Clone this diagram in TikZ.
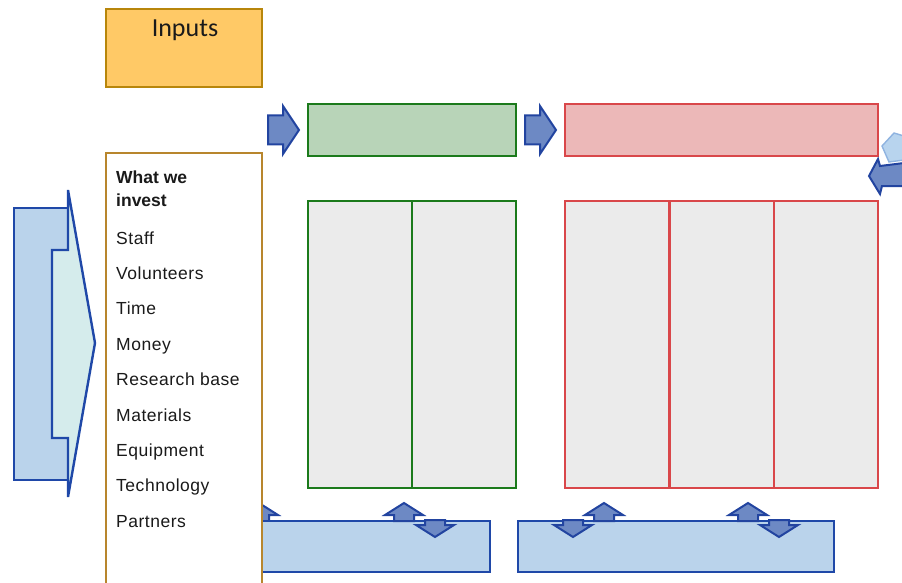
\documentclass[tikz,border=0pt]{standalone}
\usepackage{fontspec}
\setmainfont{Liberation Sans}
\newfontfamily\titlefont{Carlito}
\usetikzlibrary{calc}
\definecolor{inputfill}{HTML}{FFC966}
\definecolor{inputborder}{HTML}{B8860B}
\definecolor{listborder}{HTML}{B8862D}
\definecolor{greenfill}{HTML}{B8D4B8}
\definecolor{greenborder}{HTML}{1B7A1B}
\definecolor{redfill}{HTML}{ECB8B8}
\definecolor{redborder}{HTML}{D9474A}
\definecolor{greyfill}{HTML}{EBEBEB}
\definecolor{bluefill}{HTML}{BAD3EB}
\definecolor{blueborder}{HTML}{1F48A8}
\definecolor{arrowfill}{HTML}{6D89C4}
\definecolor{arrowborder}{HTML}{2244A0}
\definecolor{cyanfill}{HTML}{D5ECEC}
\definecolor{lightarrow}{HTML}{B8D4EE}
\definecolor{lightborder}{HTML}{8FB3E0}
\definecolor{textcol}{HTML}{1A1A1A}
\tikzset{
  box/.style={draw, line width=2.4pt, inner sep=0pt, outer sep=0pt, anchor=north west},
  item/.style={anchor=base west, inner sep=0pt, text=textcol, font=\fontsize{17.5}{20}\selectfont\addfontfeature{LetterSpace=3}},
  arr/.style={fill=arrowfill, draw=arrowborder, line width=2pt, line join=miter},
  pics/rarrow/.style={code={\draw[arr] (0,-14.5) -- (15,-14.5) -- (15,-24) -- (31,0) -- (15,24) -- (15,14.5) -- (0,14.5) -- cycle;}},
  pics/uparrow/.style={code={\draw[arr] (-10,18) -- (-10,12) -- (-19,12) -- (0,0) -- (19,12) -- (10,12) -- (10,18) -- cycle;}},
  pics/downarrow/.style={code={\draw[arr] (-10,0) -- (10,0) -- (10,5) -- (19,5) -- (0,17) -- (-19,5) -- (-10,5) -- cycle;}}
}
\begin{document}
\begin{tikzpicture}[x=1pt,y=-1pt]
\useasboundingbox (0,0) rectangle (902,583);

% Inputs title
\node[box, fill=inputfill, draw=inputborder, minimum width=156pt, minimum height=78pt] (inputs) at (106,9) {};
\node[anchor=base, inner sep=0pt, text=textcol, font=\titlefont\fontsize{26}{30}\selectfont] (inputstitle) at (185,37) {Inputs};

% left big arrow
\draw[fill=bluefill, draw=blueborder, line width=2.4pt] (14,208) -- (68,208) -- (68,250) -- (52,250) -- (52,438) -- (68,438) -- (68,480) -- (14,480) -- cycle;
\draw[fill=cyanfill, draw=blueborder, line width=2.4pt, line join=miter] (68,190) -- (95,343) -- (68,497) -- (68,438) -- (52,438) -- (52,250) -- (68,250) -- cycle;

% top arrows and boxes
\pic at (268,130) {rarrow};
\node[box, fill=greenfill, draw=greenborder, minimum width=208pt, minimum height=52pt] (outputs) at (308,104) {};
\pic at (525,130) {rarrow};
\node[box, fill=redfill, draw=redborder, minimum width=313pt, minimum height=52pt] (outcomes) at (565,104) {};

% top-right cycle arrow (partly cut)
\draw[fill=lightarrow, draw=lightborder, line width=1.4pt] (882,146) -- (894,133) -- (904,136) -- (904,160) -- (889,162) -- cycle;
\draw[arr] (869,176) -- (878,159) -- (880,166) -- (904,163) -- (904,186) -- (882,186) -- (880,194) -- cycle;

% lower boxes
\node[box, fill=greyfill, draw=greenborder, minimum width=208pt, minimum height=287pt] (outgrid) at (308,201) {};
\draw[greenborder, line width=2.4pt] (outgrid.north) -- (outgrid.south);
\node[box, fill=greyfill, draw=redborder, minimum width=313pt, minimum height=287pt] (outcgrid) at (565,201) {};
\draw[draw=redborder, line width=2.4pt] (outcgrid.north west) ++(104.3,0) coordinate (d1t) -- ++(0,287) coordinate (d1b);
\draw[draw=redborder, line width=2.4pt] (outcgrid.north west) ++(208.7,0) coordinate (d2t) -- ++(0,287) coordinate (d2b);

% bottom boxes
\pic at (259,503) {uparrow};
\node[box, fill=bluefill, draw=blueborder, minimum width=260pt, minimum height=51pt] (assump) at (230,521) {};
\node[box, fill=bluefill, draw=blueborder, minimum width=316pt, minimum height=51pt] (extfac) at (518,521) {};
\pic at (404,503) {uparrow};
\pic at (435,520) {downarrow};
\pic at (573,520) {downarrow};
\pic at (604,503) {uparrow};
\pic at (748,503) {uparrow};
\pic at (779,520) {downarrow};

% inputs list box
\node[box, fill=white, draw=listborder, minimum width=156pt, minimum height=440pt] (invest) at (106,153) {};
\node[item, font=\fontsize{17.5}{20}\selectfont\bfseries] (what) at (116,183) {What we};
\node[item, font=\fontsize{17.5}{20}\selectfont\bfseries] (investlbl) at (116,206) {invest};
\node[item] (i1) at (116,244) {Staff};
\node[item] (i2) at (116,279.4) {Volunteers};
\node[item] (i3) at (116,314.8) {Time};
\node[item] (i4) at (116,350.2) {Money};
\node[item] (i5) at (116,385.6) {Research base};
\node[item] (i6) at (116,421) {Materials};
\node[item] (i7) at (116,456.4) {Equipment};
\node[item] (i8) at (116,491.8) {Technology};
\node[item] (i9) at (116,527.2) {Partners};
\end{tikzpicture}
\end{document}
